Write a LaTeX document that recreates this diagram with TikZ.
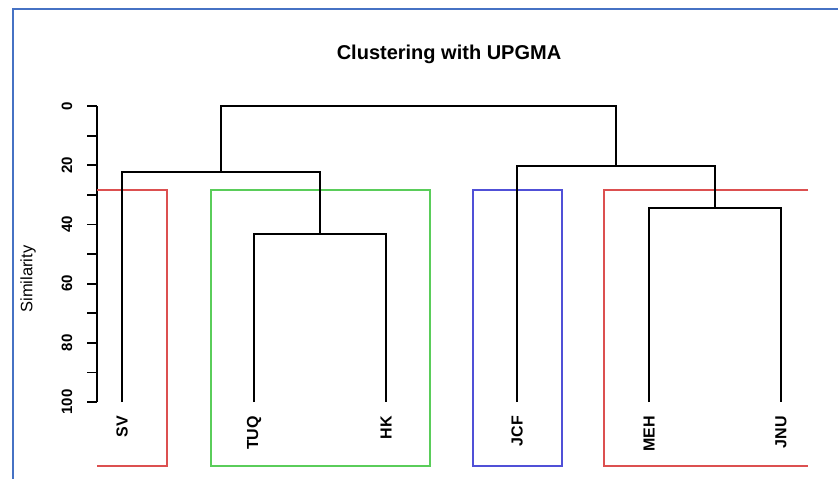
\documentclass[tikz,border=0pt]{standalone}
\usepackage{fontspec}
\setmainfont{Liberation Sans}
\definecolor{frameblue}{RGB}{70,114,196}
\definecolor{kred}{RGB}{220,80,80}
\definecolor{kgreen}{RGB}{90,205,90}
\definecolor{kblue}{RGB}{80,80,215}
\tikzset{
  tree/.style={line width=2.4pt, black},
  clusterbox/.style={line width=1.2pt},
  leaflabel/.style={rotate=90, anchor=east, font=\fontsize{16}{16}\selectfont\bfseries, inner sep=0pt},
  ticklabel/.style={rotate=90, font=\fontsize{15}{15}\selectfont\bfseries, inner sep=0pt},
}
\begin{document}
\begin{tikzpicture}[x=1pt,y=-1pt]
\useasboundingbox (0,0) rectangle (838,479);
\fill[white] (0,0) rectangle (838,479);
% outer frame
\draw[frameblue, line width=2pt] (13,479) -- (13,9) -- (838,9);
% title
\node[font=\fontsize{20}{20}\selectfont\bfseries] (title) at (449,54) {Clustering with UPGMA};
% y label
\node[rotate=90, font=\fontsize{16.5}{16.5}\selectfont] (ylab) at (28,279) {Similarity};
% axis
\coordinate (axtop) at (97,106);
\coordinate (axbot) at (97,402);
\draw[line width=1.8pt] (axtop) -- (axbot);
\foreach \i in {0,...,10} {
  \draw[line width=1.8pt] (87,106+29.6*\i) -- (97,106+29.6*\i);
}
\foreach \v/\i in {0/0,20/2,40/4,60/6,80/8,100/10} {
  \node[ticklabel] (t\v) at (67,106+29.6*\i) {\v};
}
% cluster boxes
\draw[kred, clusterbox] (97,190) -- (167,190) -- (167,466) -- (97,466);
\draw[kgreen, clusterbox] (211,190) rectangle (430,466);
\draw[kblue, clusterbox] (473,190) rectangle (562,466);
\draw[kred, clusterbox] (808,190) -- (604,190) -- (604,466) -- (808,466);
% leaves
\coordinate (sv) at (122,402);
\coordinate (tuq) at (254,402);
\coordinate (hk) at (386,402);
\coordinate (jcf) at (517,402);
\coordinate (meh) at (649,402);
\coordinate (jnu) at (781,402);
% merges
\coordinate (m1) at (320,234);
\coordinate (m2) at (221,172);
\coordinate (m3) at (715,208);
\coordinate (m4) at (616,166);
\coordinate (root) at (418.5,106);
\draw[tree] (tuq) |- (m1) -| (hk);
\draw[tree] (sv) |- (m2) -| (m1);
\draw[tree] (meh) |- (m3) -| (jnu);
\draw[tree] (jcf) |- (m4) -| (m3);
\draw[tree] (m2) |- (root) -| (m4);
% leaf labels
\node[leaflabel] (lsv) at (122,416) {SV};
\node[leaflabel] (ltuq) at (254,416) {TUQ};
\node[leaflabel] (lhk) at (386,416) {HK};
\node[leaflabel] (ljcf) at (517,416) {JCF};
\node[leaflabel] (lmeh) at (649,416) {MEH};
\node[leaflabel] (ljnu) at (781,416) {JNU};
\end{tikzpicture}
\end{document}
